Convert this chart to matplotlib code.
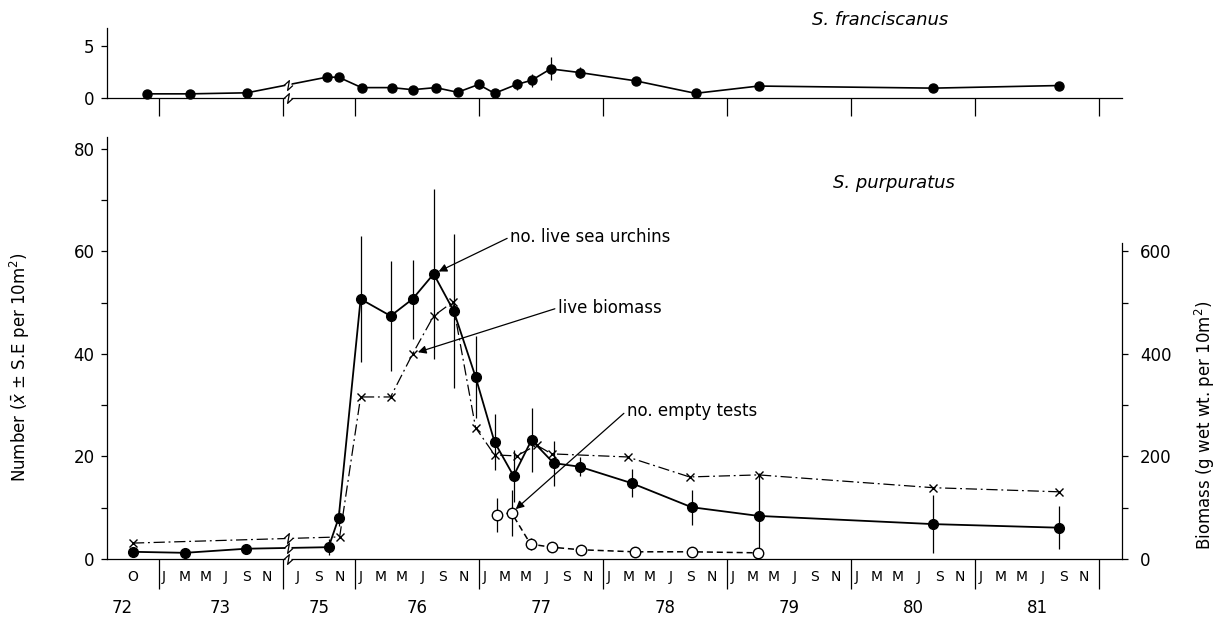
"""
Sea urchin densities, S. franciscanus / S. purpuratus, 1972-81
"""

import numpy as np
import matplotlib.pyplot as plt
from matplotlib.path import Path
import matplotlib.transforms as mtransforms

plt.rcParams['font.family'] = ['DejaVu Sans']
plt.rcParams['axes.linewidth'] = 0.9

# sampling dates as decimal years; 1974 was not sampled (axis broken)
live_t = [1972.793, 1973.212, 1973.704, 1975.787, 1975.868, 1976.045, 1976.287,
          1976.464, 1976.634, 1976.795, 1976.972, 1977.125, 1977.278, 1977.423,
          1977.601, 1977.810, 1978.229, 1978.713, 1979.253, 1980.663, 1981.679]
live_n = [1.4, 1.2, 2.0, 2.3, 8.0, 50.7, 47.4, 50.7, 55.6, 48.4, 35.5, 22.8,
          16.2, 23.2, 18.7, 18.0, 14.8, 10.1, 8.4, 6.8, 6.1]
live_se = [0.6, 0.4, 1.0, 1.5, 1.5, 12.3, 10.7, 7.7, 16.5, 15.0, 8.0, 5.5,
           5.0, 6.2, 4.4, 1.8, 2.8, 3.4, 8.4, 5.7, 4.2]

# live biomass, g wet wt. per 10 m2 (right axis)
bio_t = [1972.793, 1975.876, 1976.045, 1976.287, 1976.464, 1976.634, 1976.787,
         1976.972, 1977.125, 1977.302, 1977.464, 1977.585, 1978.197, 1978.697,
         1979.253, 1980.663, 1981.679]
bio_g = [31, 43, 316, 316, 400, 474, 501, 256, 203, 201, 222, 205, 199, 160,
         164, 139, 131]

empty_t = [1977.141, 1977.262, 1977.415, 1977.585, 1977.818, 1978.254,
           1978.713, 1979.245]
empty_n = [8.6, 9.0, 2.9, 2.3, 1.8, 1.4, 1.4, 1.2]
empty_se = [3.3, 4.5, 1.2, 1.0, 1.0, 0.7, 0.4, 0.4]

fran_t = [1972.906, 1973.252, 1973.712, 1975.771, 1975.868, 1976.053, 1976.295,
          1976.464, 1976.650, 1976.827, 1976.996, 1977.125, 1977.302, 1977.423,
          1977.577, 1977.810, 1978.262, 1978.745, 1979.253, 1980.663, 1981.679]
fran_n = [0.4, 0.4, 0.5, 2.0, 2.0, 1.0, 1.0, 0.8, 1.0, 0.55, 1.3, 0.45, 1.3,
          1.7, 2.8, 2.45, 1.65, 0.45, 1.15, 0.95, 1.2]
fran_se = [0.3, 0.3, 0.3, 0.3, 0.3, 0.2, 0.2, 0.2, 0.3, 0.2, 0.4, 0.3, 0.5,
           0.6, 1.1, 0.5, 0.3, 0.2, 0.3, 0.3, 0.2]

month_letters = ['J', 'M', 'M', 'J', 'S', 'N']
year_labels = ['72', '73', '75', '76', '77', '78', '79', '80', '81']
year_values = [1972, 1973, 1975, 1976, 1977, 1978, 1979, 1980, 1981]

AX_START = 1972 + 7 / 12   # Aug 1972
GAP_START = 1974.0
GAP_END = 1975 + 5 / 12    # Jun 1975
BREAK_X = 17.5


def to_x(t):
    """decimal year -> month position on the broken axis"""
    t = np.asarray(t, float)
    m = (t - AX_START) * 12
    return np.where(t >= GAP_END, m - (GAP_END - GAP_START) * 12, m)


zig = Path([(-0.5, 0.0), (0.1, 0.55), (-0.1, -0.55), (0.5, 0.0)])


def break_mark(ax, y, size=7):
    ax.plot([BREAK_X], [y], marker='s', ms=size * 0.7, mfc='white', mec='none',
            ls='none', zorder=6, clip_on=False)
    ax.plot([BREAK_X], [y], marker=zig, ms=size, mfc='none', mec='k', mew=0.9,
            ls='none', zorder=7, clip_on=False)


def line_break(ax, t, y, size=7):
    x = to_x(t)
    break_mark(ax, np.interp(BREAK_X, x, y), size)


fig = plt.figure(figsize=(12.21, 6.18), dpi=100)
ax = fig.add_axes([0.0876, 0.0955, 0.8313, 0.6828])
ax_top = fig.add_axes([0.0876, 0.8414, 0.8313, 0.1133])
ax2 = ax.twinx()

xmax = 98.2
box_edges = [1973, 1974, 1976, 1977, 1978, 1979, 1980, 1981, 1982]

# ---- S. purpuratus ----
xl = to_x(live_t)
ax.errorbar(xl, live_n, yerr=live_se, fmt='none', ecolor='k', elinewidth=0.9,
            capsize=0, zorder=2)
ax.plot(xl, live_n, color='k', lw=1.3, marker='o', ms=7, mfc='k', mec='k',
        zorder=4)
line_break(ax, live_t, live_n)

xe = to_x(empty_t)
ax.errorbar(xe, empty_n, yerr=empty_se, fmt='none', ecolor='k', elinewidth=0.9,
            capsize=0, zorder=2)
ax.plot(xe, empty_n, color='k', lw=1.1, dashes=(4, 2.5), marker='o', ms=7.5,
        mfc='white', mec='k', mew=1, zorder=4)

xb = to_x(bio_t)
ax2.plot(xb, bio_g, color='k', lw=0.9, dashes=(9, 3, 1.5, 3), marker='x', ms=6,
         mew=1, zorder=3)
line_break(ax2, bio_t, bio_g)

ax.set_xlim(0, xmax)
ax.set_ylim(0, 82.3)
ax2.set_ylim(0, 823)

for s in ['top', 'right']:
    ax.spines[s].set_visible(False)
for s in ['top', 'left', 'bottom']:
    ax2.spines[s].set_visible(False)
ax2.spines['right'].set_bounds(0, 617)

ax.set_xticks(to_x(box_edges))
ax.tick_params(axis='x', length=21.6, width=0.9, direction='out',
               labelbottom=False)
ax.set_yticks([0, 20, 40, 60, 80])
ax.set_yticks([10, 30, 50, 70], minor=True)
ax.tick_params(axis='y', which='both', length=4, width=0.9, labelsize=12, pad=5)
ax2.set_yticks([0, 200, 400, 600])
ax2.set_yticks([100, 300, 500], minor=True)
ax2.tick_params(axis='y', which='both', length=4, width=0.9, labelsize=12, pad=9)
break_mark(ax, 0)

# month and year labels under the axis
trans = mtransforms.blended_transform_factory(ax.transData, ax.transAxes)
ax.text(to_x(1972 + 9.5 / 12), -0.043, 'O', transform=trans, ha='center',
        va='center', fontsize=10)
for yr in year_values[1:]:
    for k, lab in enumerate(month_letters):
        t = yr + (2 * k + 0.5) / 12
        if yr == 1975 and t < GAP_END:
            continue
        ax.text(to_x(t), -0.043, lab, transform=trans, ha='center',
                va='center', fontsize=10)
for yr, lab in zip(year_values, year_labels):
    lo = max(float(to_x(yr)), -2.0)
    if yr == 1975:
        lo = float(to_x(GAP_END))
    hi = float(to_x(yr + 1)) if yr != 1973 else float(to_x(GAP_START))
    ax.text((lo + hi) / 2, -0.116, lab, transform=trans, ha='center',
            va='center', fontsize=12)

ax.text(0.715, 0.891, 'S. purpuratus', transform=ax.transAxes, fontsize=13,
        style='italic', va='center')

arrow = dict(arrowstyle='-|>', color='k', lw=0.9, shrinkA=0, shrinkB=4,
             mutation_scale=12, relpos=(0, 0.5))
ax.annotate('no. live sea urchins', xy=(xl[8], live_n[8]),
            xytext=(0.397, 0.763), textcoords='axes fraction', fontsize=12,
            va='center', ha='left', arrowprops=arrow)
ax2.annotate('live biomass', xy=(xb[4], bio_g[4]),
             xytext=(0.444, 0.595), textcoords='axes fraction', fontsize=12,
             va='center', ha='left', arrowprops=arrow)
ax.annotate('no. empty tests', xy=(xe[1], empty_n[1]),
            xytext=(0.512, 0.351), textcoords='axes fraction', fontsize=12,
            va='center', ha='left', arrowprops=arrow)

# ---- S. franciscanus ----
xf = to_x(fran_t)
ax_top.errorbar(xf, fran_n, yerr=fran_se, fmt='none', ecolor='k',
                elinewidth=0.9, capsize=0, zorder=2)
ax_top.plot(xf, fran_n, color='k', lw=1.2, marker='o', ms=6.5, mfc='k',
            mec='k', zorder=4, clip_on=False)
line_break(ax_top, fran_t, fran_n)
ax_top.set_xlim(0, xmax)
ax_top.set_ylim(0, 6.73)
for s in ['top', 'right']:
    ax_top.spines[s].set_visible(False)
ax_top.set_xticks(to_x(box_edges))
ax_top.tick_params(axis='x', length=13, width=0.9, direction='out',
                   labelbottom=False)
ax_top.set_yticks([0, 5])
ax_top.tick_params(axis='y', length=4, width=0.9, labelsize=12, pad=5)
break_mark(ax_top, 0)

fig.text(0.665, 0.968, 'S. franciscanus', fontsize=13, style='italic',
         va='center')
fig.text(0.0164, 0.406, r'Number ($\bar{x}$ ± S.E per 10m$^2$)', rotation=90,
         ha='center', va='center', fontsize=12)
fig.text(0.987, 0.312, r'Biomass (g wet wt. per 10m$^2$)', rotation=90,
         ha='center', va='center', fontsize=12)

fig.savefig('out.png', dpi=100)
